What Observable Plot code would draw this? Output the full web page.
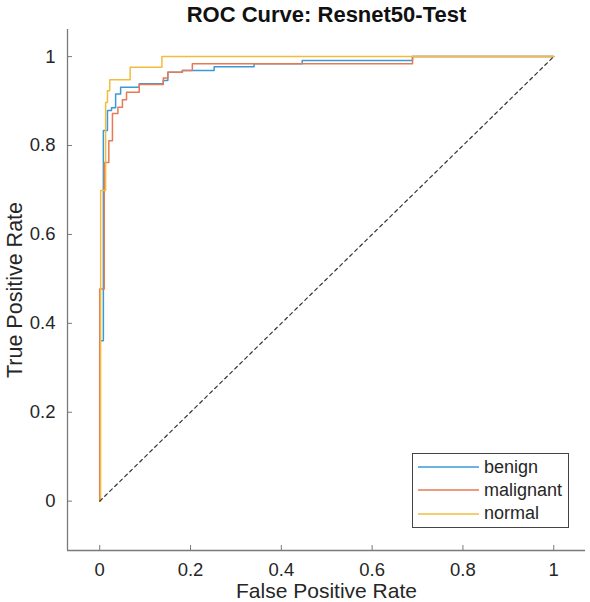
<!DOCTYPE html>
<html>
<head>
<meta charset="utf-8">
<script src="https://cdn.jsdelivr.net/npm/d3@7"></script>
<script src="https://cdn.jsdelivr.net/npm/@observablehq/plot@0.6"></script>
<style>
  body { margin: 0; background: #fff; }
  #wrap { position: relative; width: 590px; height: 602px; font-family: "Liberation Sans", Arial, sans-serif; }
  #legend { position: absolute; left: 412px; top: 453px; width: 157px; height: 75px; border: 1px solid #444; background: #fff; box-sizing: border-box; }
  .row { position: absolute; left: 0; height: 22px; display: flex; align-items: center; font-size: 18px; color: #262626; }
  .row svg { margin-left: 5px; margin-right: 5px; }
</style>
</head>
<body>
<div id="wrap"></div>
<script>
const title = "ROC Curve: Resnet50-Test";
const xLabel = "False Positive Rate";
const yLabel = "True Positive Rate";
const seriesNames = ["benign", "malignant", "normal"];
const seriesColors = ["#3a9ad9", "#e57a55", "#f1bd3f"];
const xTicks = [0, 0.2, 0.4, 0.6, 0.8, 1];
const yTicks = [0, 0.2, 0.4, 0.6, 0.8, 1];
const xTickLabels = ["0", "0.2", "0.4", "0.6", "0.8", "1"];
const yTickLabels = ["0", "0.2", "0.4", "0.6", "0.8", "1"];

const fprBenign = [0, 0, 0.008, 0.008, 0.017, 0.017, 0.026, 0.026, 0.035, 0.035, 0.046, 0.046, 0.087, 0.087, 0.140, 0.140, 0.150, 0.150, 0.182, 0.182, 0.252, 0.252, 0.340, 0.340, 0.446, 0.446, 0.689, 0.689, 1];
const tprBenign = [0, 0.361, 0.361, 0.834, 0.834, 0.879, 0.879, 0.885, 0.885, 0.916, 0.916, 0.931, 0.931, 0.939, 0.939, 0.946, 0.946, 0.965, 0.965, 0.969, 0.969, 0.977, 0.977, 0.984, 0.984, 0.991, 0.991, 1, 1];

const fprMalignant = [0, 0, 0.010, 0.010, 0.020, 0.020, 0.028, 0.028, 0.040, 0.040, 0.050, 0.050, 0.059, 0.059, 0.087, 0.087, 0.140, 0.140, 0.150, 0.150, 0.182, 0.182, 0.204, 0.204, 0.689, 0.689, 1];
const tprMalignant = [0, 0.477, 0.477, 0.762, 0.762, 0.811, 0.811, 0.872, 0.872, 0.886, 0.886, 0.903, 0.903, 0.920, 0.920, 0.937, 0.937, 0.952, 0.952, 0.965, 0.965, 0.969, 0.969, 0.984, 0.984, 1, 1];

const fprNormal = [0, 0.002, 0.002, 0.013, 0.013, 0.017, 0.017, 0.022, 0.022, 0.067, 0.067, 0.137, 0.137, 1];
const tprNormal = [0, 0, 0.699, 0.699, 0.897, 0.897, 0.923, 0.923, 0.948, 0.948, 0.976, 0.976, 1, 1];

const diagX = [0, 1];
const diagY = [0, 1];

const xDomain = [-0.071, 1.07];
const yDomain = [-0.111, 1.061];

const toRows = (xs, ys, name) => xs.map((x, i) => ({x, y: ys[i], name}));
const rows = [
  ...toRows(fprBenign, tprBenign, seriesNames[0]),
  ...toRows(fprMalignant, tprMalignant, seriesNames[1]),
  ...toRows(fprNormal, tprNormal, seriesNames[2])
];
const diag = toRows(diagX, diagY, "diag");

const axisColor = "#7a7a7a";
const textColor = "#262626";

const chart = Plot.plot({
  width: 590,
  height: 602,
  marginLeft: 67,
  marginRight: 5,
  marginTop: 29,
  marginBottom: 52,
  style: {fontFamily: '"Liberation Sans", Arial, sans-serif', background: "white", color: textColor},
  x: {domain: xDomain},
  y: {domain: yDomain},
  color: {domain: seriesNames, range: seriesColors},
  marks: [
    Plot.ruleX([xDomain[0]], {stroke: axisColor, strokeWidth: 1.3}),
    Plot.ruleY([yDomain[0]], {stroke: axisColor, strokeWidth: 1.3}),
    Plot.axisX({ticks: xTicks, tickSize: -5, tickFormat: () => "", stroke: axisColor, label: null}),
    Plot.axisY({ticks: yTicks, tickSize: -5, tickFormat: () => "", stroke: axisColor, label: null}),
    Plot.axisX({ticks: xTicks, tickSize: 0, tickPadding: 12, fontSize: 18.5, fill: textColor,
      tickFormat: (d) => xTickLabels[xTicks.indexOf(d)], label: null}),
    Plot.axisY({ticks: yTicks, tickSize: 0, tickPadding: 12, fontSize: 18.5, fill: textColor,
      tickFormat: (d) => yTickLabels[yTicks.indexOf(d)], label: null}),
    Plot.line(rows, {x: "x", y: "y", z: "name", stroke: "name", strokeWidth: 1.5}),
    Plot.line(diag, {x: "x", y: "y", stroke: "#333", strokeWidth: 1.2, strokeDasharray: "3.5,3.5"}),
    Plot.text([title], {frameAnchor: "top", lineAnchor: "middle", dy: -14.5, fontSize: 22, fontWeight: "bold", fill: "#111", text: (d) => d}),
    Plot.text([xLabel], {frameAnchor: "bottom", lineAnchor: "middle", dy: 41, fontSize: 21, fill: textColor, text: (d) => d}),
    Plot.text([yLabel], {frameAnchor: "left", lineAnchor: "middle", textAnchor: "middle", dx: -52, rotate: -90, fontSize: 21.5, fill: textColor, text: (d) => d})
  ]
});

const wrap = document.getElementById("wrap");
wrap.appendChild(chart);

const legend = document.createElement("div");
legend.id = "legend";
seriesNames.forEach((name, i) => {
  const row = document.createElement("div");
  row.className = "row";
  row.style.top = (2 + i * 23.3) + "px";
  row.innerHTML = `<svg width="61" height="4"><line x1="0" x2="61" y1="2" y2="2" stroke="${seriesColors[i]}" stroke-width="1.5"/></svg><span>${name}</span>`;
  legend.appendChild(row);
});
wrap.appendChild(legend);
</script>
</body>
</html>
